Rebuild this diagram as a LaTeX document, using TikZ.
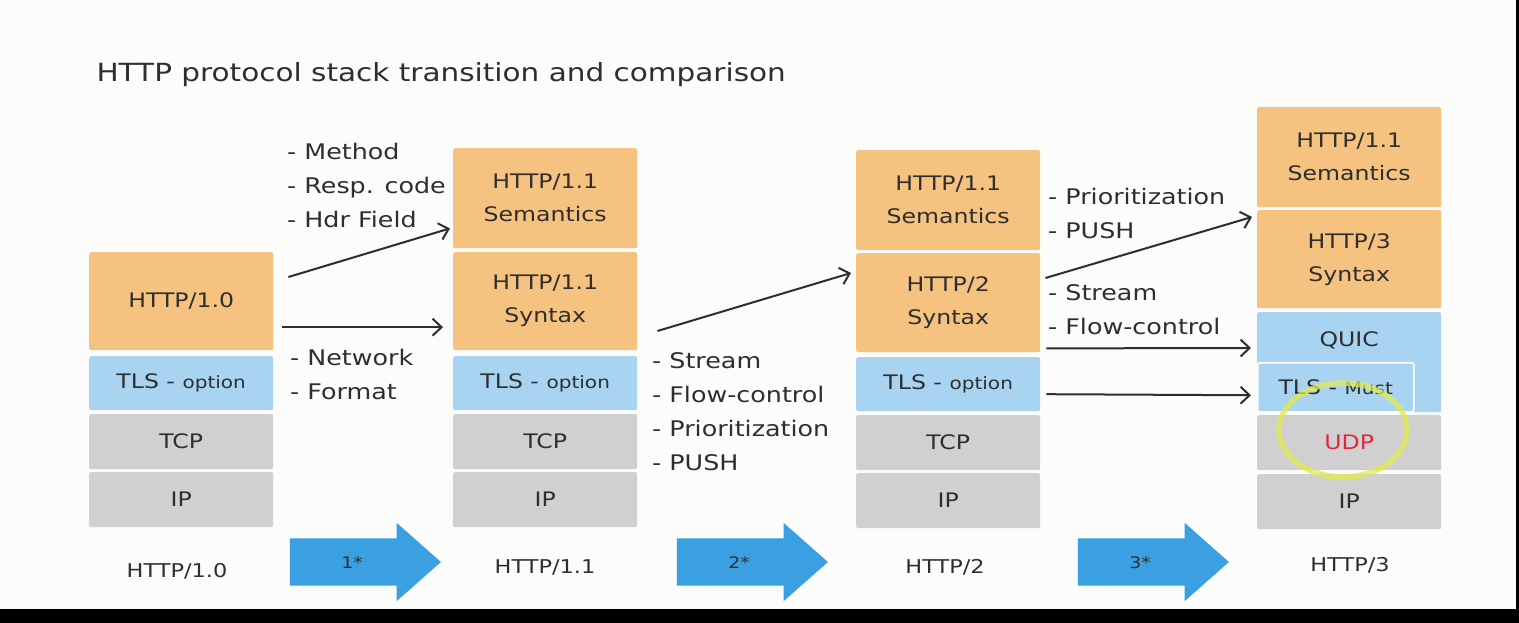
\documentclass[tikz,border=0pt]{standalone}
\usepackage{fontspec}
\setmainfont[FakeStretch=1.18]{DejaVu Sans}
\usetikzlibrary{shapes.arrows, arrows.meta}

\definecolor{paper}{HTML}{FCFCFA}
\definecolor{inkcol}{HTML}{2E2E2E}
\definecolor{appcol}{HTML}{F5C27F}
\definecolor{seccol}{HTML}{A8D4F1}
\definecolor{netcol}{HTML}{D0D0D0}
\definecolor{stepcol}{HTML}{3AA0E2}
\definecolor{udpcol}{HTML}{E0283C}
\definecolor{marker}{HTML}{E2EB4E}

\newcommand{\minor}[1]{{\fontsize{17}{20}\selectfont #1}}

\begin{document}
\begin{tikzpicture}[
  x=1pt, y=-1pt,
  every node/.style={font=\fontsize{20}{33}\selectfont, text=inkcol},
  layer/.style={
    rectangle, rounded corners=2pt, anchor=north west,
    minimum width=184pt, inner sep=0pt, align=center
  },
  app/.style={layer, fill=appcol},
  sec/.style={layer, fill=seccol},
  net/.style={layer, fill=netcol},
  note/.style={anchor=north west, inner sep=0pt, align=left, font=\fontsize{21.5}{34}\selectfont},
  version/.style={anchor=center, font=\fontsize{19}{24}\selectfont},
  bigarrow/.style={
    single arrow, fill=stepcol, inner xsep=0pt, inner ysep=17pt,
    text height=13pt, text depth=0pt,
    minimum height=151pt, minimum width=78pt,
    single arrow head extend=15.5pt, single arrow tip angle=83,
    font=\fontsize{16}{20}\selectfont
  },
  flow/.style={draw=inkcol, line width=2pt, -{Straight Barb[length=9pt,width=17pt]}}
]

% canvas
\fill[paper] (0,0) rectangle (1519,623);
\fill[black] (0,609) rectangle (1519,623);
\fill[black] (1516,0) rectangle (1519,623);
\useasboundingbox (0,0) rectangle (1519,623);

\node[anchor=west, font=\fontsize{25}{30}\selectfont] (title) at (93,75)
  {HTTP protocol stack transition and comparison};

% HTTP/1.0
\node[app, minimum height=98pt] (h10app) at (89,252) {HTTP/1.0};
\node[sec, minimum height=54pt] (h10tls) at (89,356) {TLS - \minor{option}};
\node[net, minimum height=55pt] (h10tcp) at (89,414) {TCP};
\node[net, minimum height=55pt] (h10ip)  at (89,472) {IP};

% HTTP/1.1
\node[app, minimum height=100pt] (h11sem) at (453,148) {HTTP/1.1\\Semantics};
\node[app, minimum height=98pt]  (h11syn) at (453,252) {HTTP/1.1\\Syntax};
\node[sec, minimum height=54pt]  (h11tls) at (453,356) {TLS - \minor{option}};
\node[net, minimum height=55pt]  (h11tcp) at (453,414) {TCP};
\node[net, minimum height=55pt]  (h11ip)  at (453,472) {IP};

% HTTP/2
\node[app, minimum height=100pt] (h2sem) at (856,150) {HTTP/1.1\\Semantics};
\node[app, minimum height=99pt]  (h2syn) at (856,253) {HTTP/2\\Syntax};
\node[sec, minimum height=54pt]  (h2tls) at (856,357) {TLS - \minor{option}};
\node[net, minimum height=55pt]  (h2tcp) at (856,415) {TCP};
\node[net, minimum height=55pt]  (h2ip)  at (856,473) {IP};

% HTTP/3
\node[app, minimum height=100pt] (h3sem)  at (1257,107) {HTTP/1.1\\Semantics};
\node[app, minimum height=98pt]  (h3syn)  at (1257,210) {HTTP/3\\Syntax};
\node[sec, minimum height=100pt, text height=15pt, text depth=47pt] (h3quic) at (1257,312) {QUIC};
\node[sec, minimum height=49pt, minimum width=156pt, draw=white, line width=1.5pt]
  (h3tls) at (1257,362) {TLS - \minor{Must}};
\node[net, minimum height=55pt]  (h3udp) at (1257,415) {\textcolor{udpcol}{UDP}};
\node[net, minimum height=55pt]  (h3ip)  at (1257,474) {IP};
\draw[marker, opacity=0.75, line width=5.5pt] (1343,430) ellipse [x radius=64, y radius=47];

% change notes
\node[note] (n1a) at (287,143) {- Method\\- Resp. code\\- Hdr Field};
\node[note] (n1b) at (290,349) {- Network\\- Format};
\node[note] (n2)  at (652,352) {- Stream\\- Flow-control\\- Prioritization\\- PUSH};
\node[note] (n3a) at (1048,188) {- Prioritization\\- PUSH};
\node[note] (n3b) at (1048,284) {- Stream\\- Flow-control};

% mappings
\draw[flow] ([xshift=15pt,yshift=-25pt]h10app.north east) -- ([xshift=-3pt,yshift=20pt]h11sem.south west);
\draw[flow] ([xshift=9pt,yshift=-26pt]h10app.east) -- ([xshift=-10pt,yshift=-26pt]h11syn.west);
\draw[flow] ([xshift=20pt,yshift=-79pt]h11syn.north east) -- ([xshift=-5pt,yshift=-20pt]h2syn.north west);
\draw[flow] ([xshift=5pt,yshift=-25pt]h2syn.north east) -- ([xshift=-5pt,yshift=-7pt]h3syn.north west);
\draw[flow] ([xshift=6pt,yshift=4pt]h2syn.south east) -- ([xshift=-6pt,yshift=-36pt]h3quic.north west);
\draw[flow] ([xshift=6pt,yshift=-10pt]h2tls.east) -- ([xshift=-6pt,yshift=-8pt]h3tls.west);

% versions
\node[version] (v10) at (177,571) {HTTP/1.0};
\node[bigarrow] (go1) at (352,562) {1*};
\node[version] (v11) at (545,567) {HTTP/1.1};
\node[bigarrow] (go2) at (739,562) {2*};
\node[version] (v2)  at (945,567) {HTTP/2};
\node[bigarrow] (go3) at (1140,562) {3*};
\node[version] (v3)  at (1350,565) {HTTP/3};

\end{tikzpicture}
\end{document}
